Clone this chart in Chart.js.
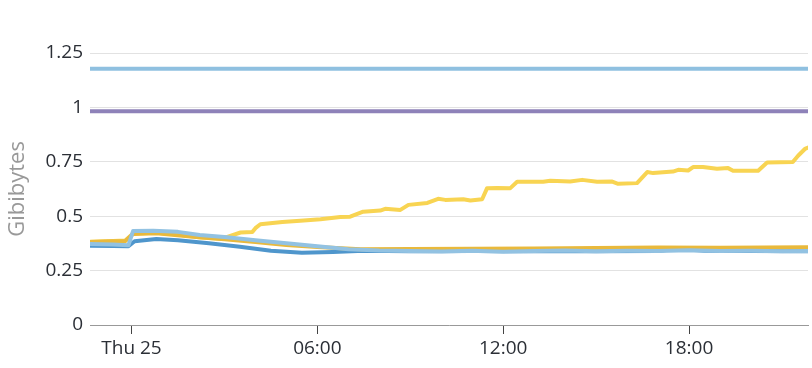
<!DOCTYPE html>
<html>
<head>
<meta charset="utf-8">
<script src="https://cdn.jsdelivr.net/npm/chart.js@4.4.0/dist/chart.umd.min.js"></script>
<style>
  body { margin: 0; background: #fff; }
  #wrap { width: 812px; height: 368px; }
</style>
</head>
<body>
<div id="wrap"><canvas id="memChart" width="812" height="368"></canvas></div>
<script>
// hours relative to Thu 25 00:00
let xMin = -1.34;
let xMax = 21.84;
let xTickHours = [0, 6, 12, 18];
let xTickLabels = ['Thu 25', '06:00', '12:00', '18:00'];
let yTicks = [0, 0.25, 0.5, 0.75, 1, 1.25];

let limitHigh = 1.178;
let limitLow = 0.982;

let lightBlueHours = [-1.34, -0.6, -0.1, 0.05, 0.7, 1.5, 2.2, 3, 4, 5, 6, 7, 8, 9, 10, 11, 12, 13, 14, 15, 16, 17, 18, 19, 20, 21, 21.84];
let lightBlueValues = [0.372, 0.37, 0.366, 0.432, 0.433, 0.428, 0.414, 0.404, 0.39, 0.376, 0.362, 0.348, 0.342, 0.34, 0.338, 0.341, 0.337, 0.34, 0.342, 0.339, 0.341, 0.34, 0.343, 0.34, 0.341, 0.339, 0.34];

let darkBlueHours = [-1.34, -0.6, -0.1, 0.1, 0.8, 1.5, 2.5, 3.5, 4.5, 5.5, 6.5, 7.5, 9, 11, 13, 15, 17, 17.6, 18.5, 20, 21.84];
let darkBlueValues = [0.364, 0.363, 0.362, 0.385, 0.395, 0.39, 0.376, 0.36, 0.341, 0.332, 0.336, 0.341, 0.339, 0.34, 0.339, 0.339, 0.34, 0.35, 0.341, 0.34, 0.339];

let goldHours = [-1.34, -0.6, -0.2, 0.05, 0.8, 2, 3, 4, 5, 6, 7.4, 9, 11, 13, 15, 17, 19, 21.84];
let goldValues = [0.381, 0.385, 0.386, 0.418, 0.422, 0.405, 0.394, 0.381, 0.368, 0.358, 0.348, 0.349, 0.35, 0.352, 0.354, 0.356, 0.355, 0.357];

let yellowHours = [-1.34, -0.6, -0.2, 0.05, 0.8, 1.5, 2.23, 2.9, 3.19, 3.52, 3.9, 4.0, 4.16, 4.87, 5.45, 6.1, 6.74, 7.06, 7.48, 8.03, 8.19, 8.68, 8.94, 9.55, 9.9, 10.13, 10.71, 10.94, 11.32, 11.48, 11.81, 12.23, 12.45, 13.29, 13.52, 14.16, 14.55, 15.03, 15.52, 15.71, 16.32, 16.65, 16.84, 17.48, 17.65, 17.97, 18.13, 18.45, 18.9, 19.26, 19.42, 20.23, 20.52, 21.35, 21.52, 21.74, 21.84];
let yellowValues = [0.383, 0.386, 0.388, 0.42, 0.424, 0.416, 0.402, 0.396, 0.41, 0.425, 0.427, 0.445, 0.463, 0.473, 0.479, 0.486, 0.496, 0.498, 0.521, 0.526, 0.534, 0.529, 0.552, 0.561, 0.58, 0.575, 0.578, 0.572, 0.578, 0.629, 0.63, 0.629, 0.658, 0.658, 0.663, 0.659, 0.667, 0.658, 0.659, 0.649, 0.652, 0.703, 0.698, 0.705, 0.713, 0.71, 0.726, 0.726, 0.718, 0.721, 0.709, 0.709, 0.747, 0.749, 0.778, 0.809, 0.815];

function toPoints(hours, values) {
  return hours.map((h, i) => ({ x: h, y: values[i] }));
}

function lineSet(hours, values, color, order) {
  return {
    data: toPoints(hours, values),
    borderColor: color,
    borderWidth: 4,
    pointRadius: 0,
    tension: 0,
    borderCapStyle: 'round',
    borderJoinStyle: 'round',
    order: order
  };
}

let ctx = document.getElementById('memChart').getContext('2d');
let memChart = new Chart(ctx, {
  type: 'line',
  data: {
    datasets: [
      lineSet([xMin, xMax], [limitHigh, limitHigh], '#8fc0e0', 1),
      lineSet([xMin, xMax], [limitLow, limitLow], '#8e82b9', 1),
      lineSet(lightBlueHours, lightBlueValues, '#92c2e2', 2),
      lineSet(goldHours, goldValues, '#e9b93c', 3),
      lineSet(yellowHours, yellowValues, '#f8d452', 4),
      lineSet(darkBlueHours, darkBlueValues, '#4f96cc', 5)
    ]
  },
  options: {
    responsive: false,
    animation: false,
    layout: { padding: { top: 53, right: 4, left: 0, bottom: 0 } },
    plugins: {
      legend: { display: false },
      tooltip: { enabled: false }
    },
    scales: {
      x: {
        type: 'linear',
        min: xMin,
        max: xMax,
        afterBuildTicks: function (scale) {
          scale.ticks = xTickHours.map(v => ({ value: v }));
        },
        afterFit: function (scale) { scale.height = 43; },
        ticks: {
          autoSkip: false,
          maxRotation: 0,
          padding: 3,
          color: '#2b2f36',
          font: { family: 'Open Sans', size: 19 },
          callback: function (v) {
            let i = xTickHours.indexOf(v);
            return i >= 0 ? xTickLabels[i] : '';
          }
        },
        grid: {
          drawOnChartArea: false,
          drawTicks: true,
          tickLength: 9,
          tickColor: '#444',
          tickWidth: 1
        },
        border: { display: true, color: '#999', width: 1 }
      },
      y: {
        min: 0,
        max: 1.25,
        afterBuildTicks: function (scale) {
          scale.ticks = yTicks.map(v => ({ value: v }));
        },
        afterFit: function (scale) { scale.width = 90; },
        ticks: {
          padding: 7,
          color: '#2b2f36',
          font: { family: 'Open Sans', size: 19 },
          callback: v => String(+v.toFixed(2))
        },
        grid: {
          color: '#e2e2e2',
          lineWidth: 1,
          drawTicks: false
        },
        border: { display: false },
        title: {
          display: true,
          text: 'Gibibytes',
          color: '#999',
          font: { family: 'Open Sans', size: 22 },
          padding: { top: 5, bottom: 0 }
        }
      }
    }
  }
});
</script>
</body>
</html>
